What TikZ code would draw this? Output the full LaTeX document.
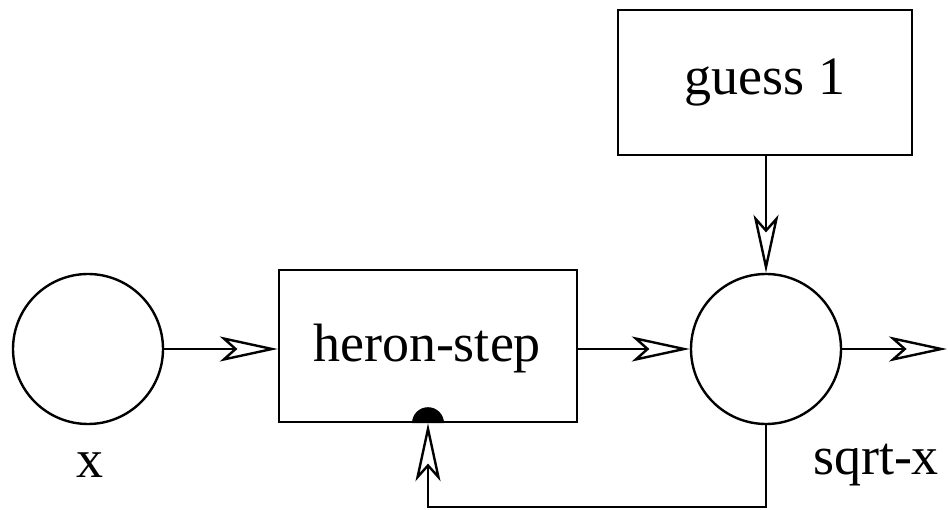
\documentclass[tikz,border=0pt]{standalone}
\usepackage{fontspec}
\setmainfont{Liberation Serif}
\usetikzlibrary{arrows.meta}
\begin{document}
\begin{tikzpicture}[x=1pt,y=-1pt,
  line width=2.4pt,
  tip/.style={line width=2.4pt,-{Stealth[open,length=58pt,width=25pt,inset=14pt,line width=2.4pt]}},
  blk/.style={draw,line width=2.4pt,rectangle,inner sep=0pt,font=\fontsize{54}{54}\selectfont},
  port/.style={draw,line width=2.4pt,circle,minimum size=150pt,inner sep=0pt},
  lbl/.style={font=\fontsize{54}{54}\selectfont,inner sep=0pt}]
\useasboundingbox (0,0) rectangle (948,510);
\node[port] (cx) at (88,349) {};
\node[lbl] (lx) at (90,465) {x};
\node[blk,minimum width=298pt,minimum height=152pt] (hs) at (428,346) {};
\node[lbl] (hst) at (427,349) {heron-step};
\node[port] (cs) at (766,349) {};
\node[lbl] (ls) at (876,465) {sqrt-x};
\node[blk,minimum width=294pt,minimum height=145pt] (g1) at (765,82.5) {guess 1};
\coordinate (out) at (947,349);
\coordinate (fb) at (766,507);
\draw[tip] (cx.east) -- (cx.east -| hs.west);
\draw[tip] (hs.east |- cs.west) -- (cs.west);
\draw[tip] (g1.south -| cs.north) -- (cs.north);
\draw[tip] (cs.east) -- (out);
\draw[tip] (cs.south) -- (fb) -| (hs.south);
\fill ([xshift=-16pt]hs.south) arc[start angle=180,end angle=0,radius=16pt] -- cycle;
\end{tikzpicture}
\end{document}
